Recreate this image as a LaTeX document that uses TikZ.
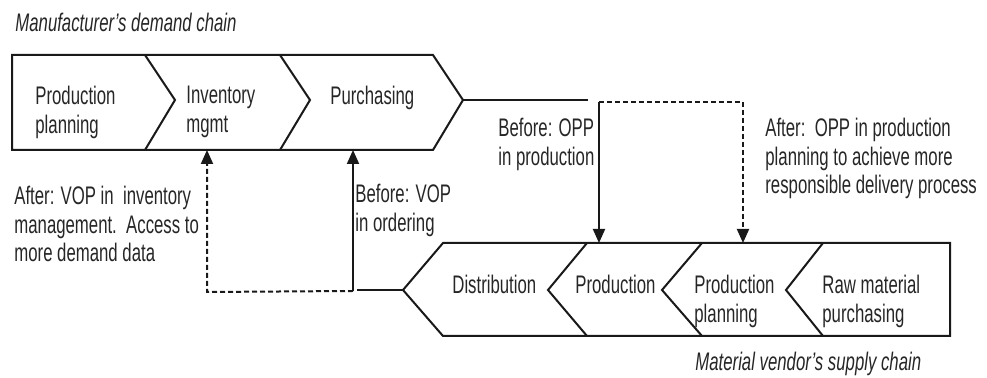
\documentclass[tikz,border=0pt]{standalone}
\usepackage{fontspec}
\setmainfont{Liberation Sans}[FakeStretch=0.66]
\usetikzlibrary{arrows.meta}

\begin{document}
\begin{tikzpicture}[x=0.5pt,y=-0.5pt,
	txt/.style={inner sep=0pt, align=left, anchor=north west, text=black!85,
		font=\fontsize{12.7}{14.3}\selectfont},
	chain/.style={draw=black!90, line width=1pt, line join=miter},
	link/.style={draw=black!90, line width=1pt},
	arr/.style={-{Triangle[length=7pt,width=6pt]}},
	dashline/.style={dash pattern=on 2.5pt off 1.5pt}]
	
	\useasboundingbox (0,0) rectangle (987,378);
	
	% Manufacturer's demand chain
	
	\draw[chain] (12,55) -- (433,55) -- (463,100) -- (433,150) -- (12,150) -- cycle;
	\draw[chain] (145,55) -- (175,100) -- (145,150);
	\draw[chain] (280,55) -- (310,100) -- (280,150);
	
	\node[txt] (prodPlanM) at (35,86) {Production\\planning};
	\node[txt] (invMgmt) at (186,86) {Inventory\\mgmt};
	\node[txt] (purch) at (330,86) {Purchasing};
	
	% Material vendor's supply chain
	
	\draw[chain] (950,243) -- (443,243) -- (403,290) -- (443,336) -- (950,336) -- cycle;
	\draw[chain] (587,243) -- (548,290) -- (587,336);
	\draw[chain] (702,243) -- (662,290) -- (702,336);
	\draw[chain] (823,243) -- (786,290) -- (823,336);
	
	\node[txt] (distr) at (452,275) {Distribution};
	\node[txt] (prodV) at (575,275) {Production};
	\node[txt] (prodPlanV) at (694,275) {Production\\planning};
	\node[txt] (rawPurch) at (822,275) {Raw material\\purchasing};
	
	% Coordinates...
	
	\coordinate (mfgTip) at (463,100);
	\coordinate (mfgEnd) at (588,100);
	\coordinate (oppBefore) at (599,102);
	\coordinate (oppAfter) at (743,102);
	\coordinate (prodTop) at (599,243);
	\coordinate (planTop) at (743,243);
	
	\coordinate (venTip) at (403,290);
	\coordinate (venEnd) at (357,290);
	\coordinate (vopBefore) at (353,291);
	\coordinate (vopAfter) at (207,292);
	\coordinate (purchBot) at (353,150);
	\coordinate (invBot) at (207,150);
	
	% Edges...
	
	\draw[link] (mfgTip) -- (mfgEnd);
	\draw[link, arr] (oppBefore) -- (prodTop);
	\draw[link, dashline, arr] (oppBefore) -- (oppAfter) -- (planTop);
	
	\draw[link] (venTip) -- (venEnd);
	\draw[link, arr] (vopBefore) -- (purchBot);
	\draw[link, dashline, arr] (vopBefore) -- (vopAfter) -- (invBot);
	
	% Texts
	
	\node[txt, font=\fontsize{12.7}{14.3}\selectfont\itshape] (mfgTitle) at (15,13) {Manufacturer's demand chain};
	\node[txt, font=\fontsize{12.7}{14.3}\selectfont\itshape] (venTitle) at (695,352) {Material vendor's supply chain};
	
	\node[txt] (vopAfterTxt) at (14,186) {After: VOP in\ \ inventory\\management.\ \ Access to\\more demand data};
	\node[txt] (vopBeforeTxt) at (355,184) {Before: VOP\\in ordering};
	\node[txt] (oppBeforeTxt) at (498,118) {Before: OPP\\in production};
	\node[txt] (oppAfterTxt) at (765,118) {After:\ \ OPP in production\\planning to achieve more\\responsible delivery process};
	
\end{tikzpicture}
\end{document}
